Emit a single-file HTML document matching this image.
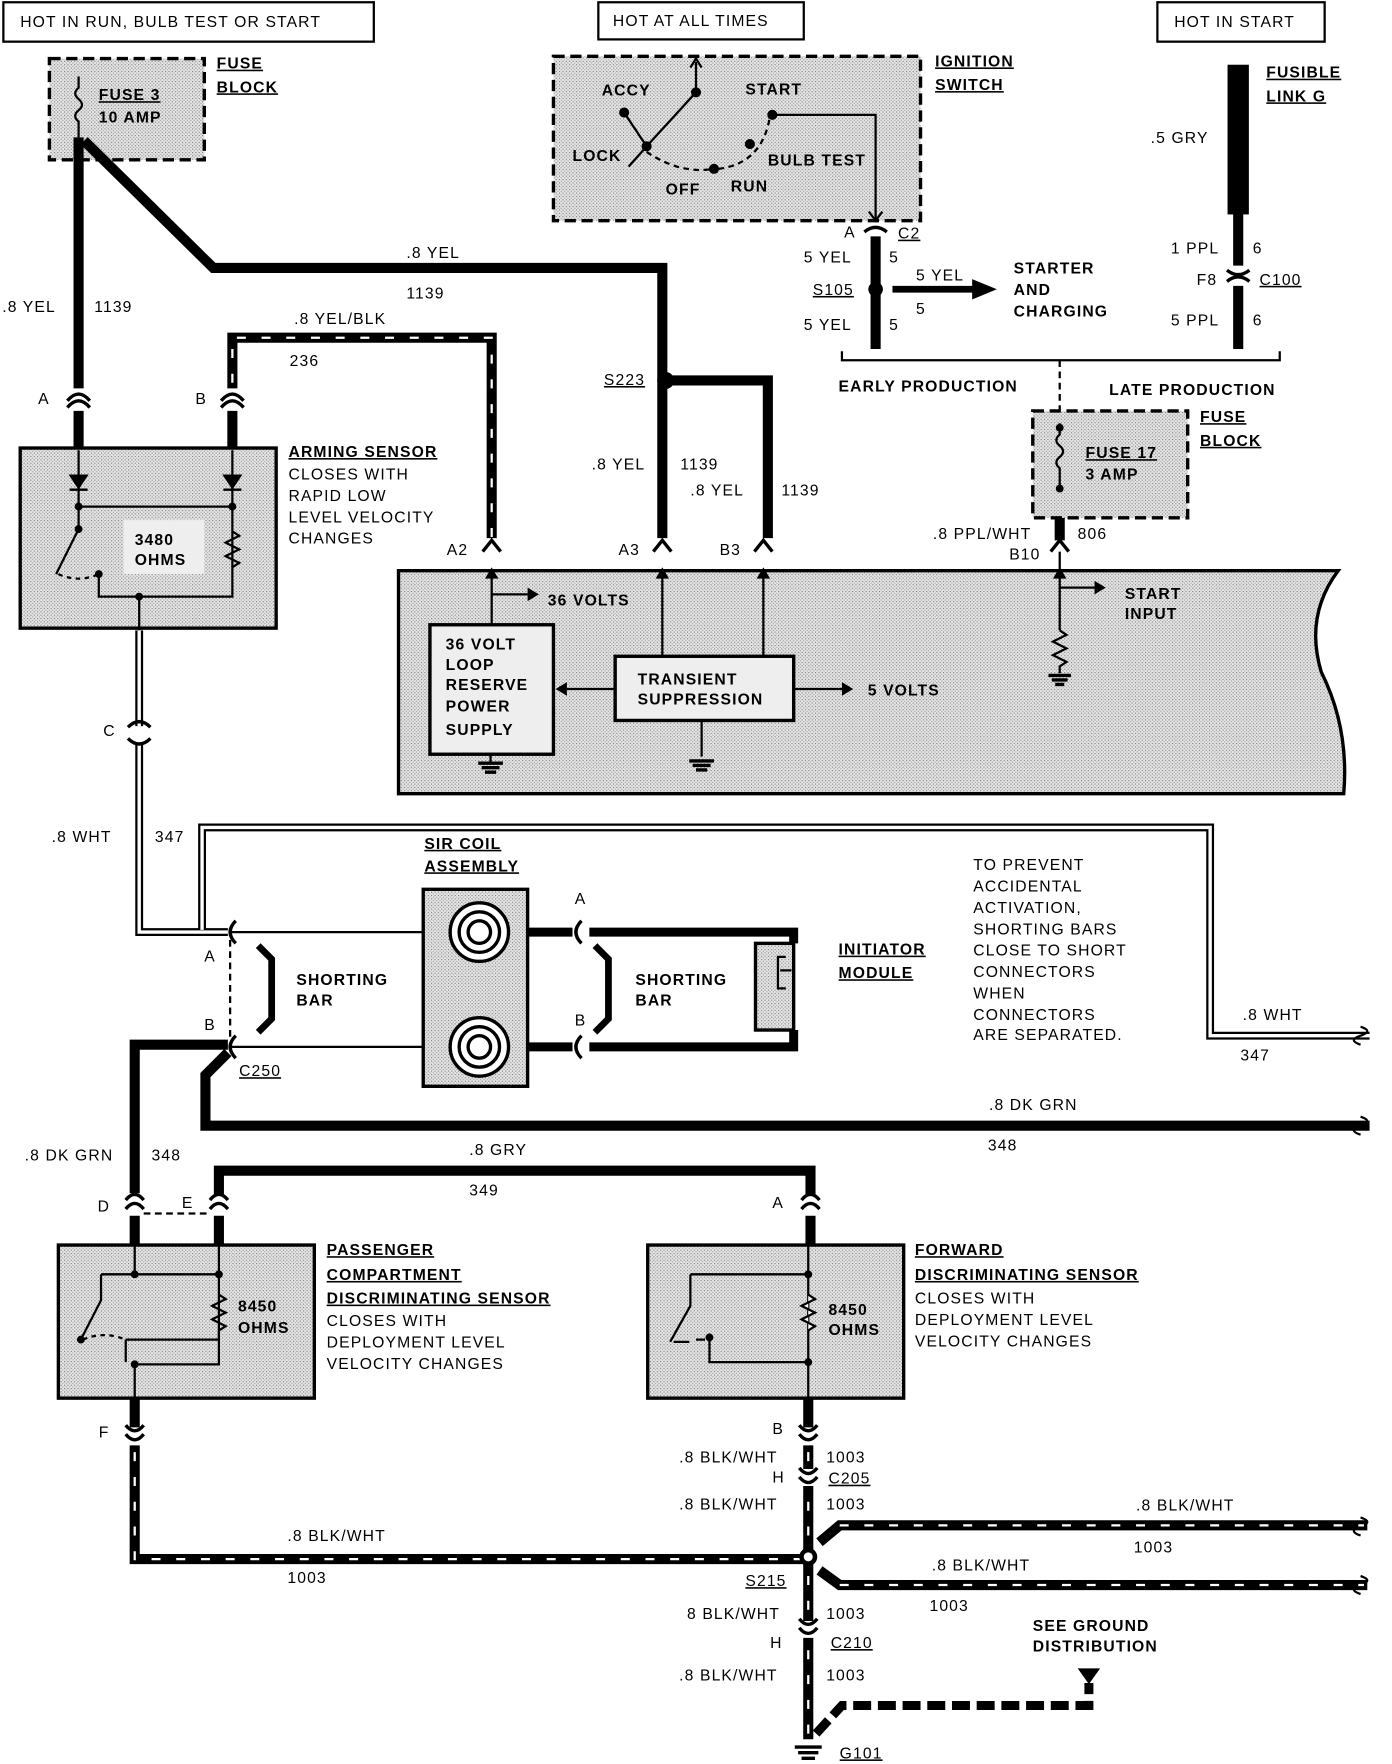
<!DOCTYPE html>
<html><head><meta charset="utf-8"><style>
html,body{margin:0;padding:0;background:#fff}
svg{display:block}
text{font-family:"Liberation Sans",sans-serif;font-size:14px;letter-spacing:1px;fill:#000}
.b{font-weight:bold}
.u{text-decoration:underline}
</style></head><body>
<svg width="1392" height="1764" viewBox="0 0 1240 1567" preserveAspectRatio="none" xmlns="http://www.w3.org/2000/svg">
<defs>
<pattern id="st" width="3" height="3" patternUnits="userSpaceOnUse"><rect width="3" height="3" fill="#e6e6e6"/><rect width="1" height="1" fill="#777"/><rect x="1.5" y="1.5" width="1" height="1" fill="#999"/></pattern>
</defs>
<g fill="none" stroke="#000">
<rect x="3" y="2" width="330" height="35" stroke-width="2"/>
<rect x="533" y="2" width="183" height="33" stroke-width="2"/>
<rect x="1031" y="2" width="149" height="35" stroke-width="2"/>

<rect x="44" y="52" width="138" height="90" fill="url(#st)" stroke-width="3" stroke-dasharray="10,5"/>
<path d="M70 68 v10 q-6 5 0 10 q6 5 0 10 q-6 5 0 10 v14" stroke-width="2"/>
<path d="M70 122 V345 M70 365 V400" stroke-width="9"/>
<path d="M75 125 L190 238 H590 V478" stroke-width="9"/>
<path d="M207 400 V365 M207 345 V300 H438 V478" stroke-width="9"/>
<path d="M207 340 V300 H438 V478" stroke="#fff" stroke-width="2" stroke-dasharray="8,14"/>
<path d="M60 356 q10 -12 20 0 M60 362 q10 -12 20 0 M197 356 q10 -12 20 0 M197 362 q10 -12 20 0" stroke-width="3"/>
<rect x="18" y="398" width="228" height="160" fill="url(#st)" stroke-width="3"/>
<path d="M70 400 V450 M207 400 V450 M70 450 H207 V530 H88 V510 M70 450 V470 L50 510 M124 530 V560" stroke-width="2"/>
<path d="M62 422 h16 l-8 12 z M199 422 h16 l-8 12 z" fill="#000" stroke-width="1"/>
<path d="M62 435 h16 M199 435 h16" stroke-width="2"/>
<path d="M207 472 l6 4 l-12 6 l12 6 l-12 6 l12 6 l-6 4" stroke-width="2" fill="none"/>
<path d="M52 510 q18 8 36 0" stroke-width="2" stroke-dasharray="4,4"/>
<circle cx="70" cy="450" r="3" fill="#000"/><circle cx="207" cy="450" r="3" fill="#000"/><circle cx="70" cy="470" r="3" fill="#000"/><circle cx="88" cy="510" r="3" fill="#000"/><circle cx="124" cy="530" r="3" fill="#000"/>
<rect x="110" y="462" width="72" height="48" fill="#eee" stroke="none"/>

<path d="M124 560 V645 M124 660 V828 H203 M180 828 V735 H1078 V920 H1220" stroke-width="7"/>
<path d="M124 560 V645 M124 660 V828 H203 M180 826 V735 H1078 V920 H1222" stroke="#fff" stroke-width="3"/>
<path d="M114 646 q10 -10 20 0 M114 656 q10 10 20 0" stroke-width="3"/>

<rect x="493" y="50" width="327" height="146" fill="url(#st)" stroke-width="3" stroke-dasharray="10,5"/>
<path d="M620 55 V82 L576 130 M556 100 L576 130 M576 130 L560 148 M688 102 H780 V196" stroke-width="2"/>
<path d="M576 135 q30 20 60 15 M640 150 q40 -5 46 -48" stroke-width="2" stroke-dasharray="5,4"/>
<circle cx="620" cy="82" r="4" fill="#000"/><circle cx="556" cy="100" r="4" fill="#000"/><circle cx="576" cy="130" r="4" fill="#000"/><circle cx="688" cy="102" r="4" fill="#000"/><circle cx="668" cy="128" r="4" fill="#000"/><circle cx="636" cy="150" r="4" fill="#000"/><path d="M615 60 l5 -8 l5 8 M774 188 l6 8 l6 -8" stroke-width="2"/>
<path d="M780 210 V310" stroke-width="9"/>
<path d="M770 206 q10 -8 20 0" stroke-width="3"/>
<circle cx="780" cy="257" r="6" fill="#000"/>
<path d="M795 257 H868" stroke-width="6"/><path d="M866 248 L888 257 L866 266 z" fill="#000" stroke="none"/>

<rect x="1094" y="58" width="18" height="132" fill="#000" stroke-width="1"/>
<path d="M1103 190 V236 M1103 254 V310" stroke-width="9"/>
<path d="M1093 240 q10 8 20 0 M1093 250 q10 -8 20 0" stroke-width="3"/>
<path d="M750 312 v8 H1140 v-8" stroke-width="2"/>
<path d="M944 320 V365" stroke-width="2" stroke-dasharray="6,4"/>
<rect x="920" y="365" width="138" height="95" fill="url(#st)" stroke-width="3" stroke-dasharray="10,5"/>
<path d="M944 376 v10 q-6 5 0 10 q6 5 0 10 q-6 5 0 10 v20" stroke-width="2"/>
<circle cx="944" cy="380" r="3" fill="#000"/><circle cx="944" cy="434" r="3" fill="#000"/>
<path d="M944 460 V480" stroke-width="9"/>

<circle cx="593" cy="338" r="7" fill="#000"/>
<path d="M593 338 H684 V478" stroke-width="9"/>

<path d="M355 507 H1192 q-30 40 -15 90 q25 50 20 108 H355 Z" fill="url(#st)" stroke-width="3"/>
<path d="M430 490 l8 -10 l8 10 M582 490 l8 -10 l8 10 M672 490 l8 -10 l8 10 M936 490 l8 -10 l8 10" stroke-width="3"/>
<path d="M438 507 V555 M438 528 H470 M590 507 V583 M680 507 V583 M548 612 H505 M707 612 H750 M625 640 V672 M944 490 V560 M944 522 H975 M437 670 V678" stroke-width="2"/>
<path d="M944 560 l6 4 l-12 6 l12 6 l-12 6 l12 6 l-6 4 V598" stroke-width="2"/>
<path d="M470 522 l10 6 l-10 6z M505 606 l-10 6 l10 6z M750 606 l10 6 l-10 6z M975 516 l10 6 l-10 6z M432 514 l6 -10 l6 10z M584 514 l6 -10 l6 10z M674 514 l6 -10 l6 10z M938 514 l6 -10 l6 10z" fill="#000" stroke="none"/>
<path d="M934 600 h20 M937 604 h14 M940 608 h8 M614 676 h22 M617 680 h16 M620 684 h10 M426 678 h22 M429 682 h16 M432 686 h10" stroke-width="3"/>
<rect x="383" y="555" width="110" height="115" fill="#eee" stroke-width="3"/>
<rect x="548" y="583" width="159" height="57" fill="#eee" stroke-width="3"/>

<rect x="377" y="790" width="93" height="175" fill="url(#st)" stroke-width="3"/>
<path d="M377 828 H205 M377 930 H205" stroke-width="2"/>
<circle cx="427" cy="828" r="26" fill="#fff" stroke-width="3"/><circle cx="427" cy="828" r="18" stroke-width="3"/><circle cx="427" cy="828" r="10" stroke-width="3"/>
<circle cx="427" cy="930" r="26" fill="#fff" stroke-width="3"/><circle cx="427" cy="930" r="18" stroke-width="3"/><circle cx="427" cy="930" r="10" stroke-width="3"/>
<path d="M470 828 H510 M470 930 H510 M525 828 H707 V838 M525 930 H707 V915" stroke-width="8"/>
<path d="M518 818 q-10 10 0 20 M518 920 q-10 10 0 20 M210 818 q-10 10 0 20 M210 920 q-10 10 0 20" stroke-width="3"/>
<rect x="673" y="838" width="34" height="77" fill="url(#st)" stroke-width="3"/>
<path d="M700 850 H693 V878 H700 M695 862 H705" stroke-width="2"/>
<path d="M230 840 l12 12 V905 l-12 12 M530 840 l12 12 V905 l-12 12" stroke-width="6"/>
<path d="M205 835 V922" stroke-width="2" stroke-dasharray="6,4"/>

<path d="M120 1060 V928 H203 M203 935 L183 955 V1000 H1220" stroke-width="9"/>
<path d="M195 1062 V1040 H722 V1062" stroke-width="9"/>
<path d="M112 1066 q8 -10 16 0 M112 1074 q8 -10 16 0 M187 1066 q8 -10 16 0 M187 1074 q8 -10 16 0 M714 1066 q8 -10 16 0 M714 1074 q8 -10 16 0" stroke-width="3"/>
<path d="M128 1078 H187" stroke-width="2" stroke-dasharray="6,4"/>
<path d="M120 1080 V1106 M195 1080 V1106 M722 1080 V1106" stroke-width="9"/>
<path d="M1212 912 q12 4 0 8 q-12 4 0 8 M1212 992 q12 4 0 8 q-12 4 0 8 M1212 1348 q12 4 0 8 q-12 4 0 8 M1212 1400 q12 4 0 8 q-12 4 0 8" stroke-width="2"/>

<rect x="52" y="1106" width="228" height="136" fill="url(#st)" stroke-width="3"/>
<path d="M120 1106 V1132 M195 1106 V1132 M90 1132 H195 V1190 M195 1190 V1190 H112 M90 1132 V1155 L72 1190 M120 1212 V1242" stroke-width="2"/>
<path d="M195 1150 l6 4 l-12 6 l12 6 l-12 6 l12 6 l-6 4" stroke-width="2"/>
<path d="M195 1182 V1212 H120 M112 1190 v20" stroke-width="2"/>
<path d="M74 1190 q18 -8 38 0" stroke-width="2" stroke-dasharray="4,4"/>
<circle cx="120" cy="1132" r="3" fill="#000"/><circle cx="195" cy="1132" r="3" fill="#000"/><circle cx="72" cy="1190" r="3" fill="#000"/><circle cx="120" cy="1212" r="3" fill="#000"/>
<rect x="577" y="1106" width="228" height="136" fill="url(#st)" stroke-width="3"/>
<path d="M720 1106 V1210 M615 1132 H720 M615 1132 V1160 L597 1192 M632 1190 V1210 H720 M720 1210 V1242" stroke-width="2"/>
<path d="M720 1150 l6 4 l-12 6 l12 6 l-12 6 l12 6 l-6 4" fill="#fff" stroke-width="2"/>
<path d="M600 1192 h14 M620 1190 h8" stroke-width="2"/>
<circle cx="720" cy="1132" r="3" fill="#000"/><circle cx="720" cy="1210" r="3" fill="#000"/><circle cx="632" cy="1188" r="3" fill="#000"/>

<path d="M120 1242 V1268 M120 1284 V1385 H720 M720 1242 V1268 M720 1284 V1305 M720 1320 V1440 M720 1455 V1545 M730 1370 L748 1355 H1218 M730 1395 L748 1408 H1218" stroke-width="9"/>
<path d="M120 1290 V1385 H715 M720 1290 V1545 M748 1355 H1215 M748 1408 H1215" stroke="#fff" stroke-width="2" stroke-dasharray="8,14"/>
<path d="M112 1266 q8 10 16 0 M112 1274 q8 10 16 0 M712 1266 q8 10 16 0 M712 1274 q8 10 16 0 M712 1304 q8 10 16 0 M712 1312 q8 10 16 0 M712 1438 q8 10 16 0 M712 1446 q8 10 16 0" stroke-width="3"/>
<circle cx="720" cy="1383" r="8" fill="#000" stroke="none"/><circle cx="720" cy="1383" r="4" fill="#fff" stroke="none"/>
<path d="M727 1540 L750 1515 H970 V1495" stroke-width="8" stroke-dasharray="16,6"/>
<path d="M960 1482 h20 l-10 14 z" fill="#000" stroke="none"/>
<path d="M708 1552 h24 M711 1557 h18 M714 1562 h12" stroke-width="3"/>
</g>

<g>
<text x="18" y="24">HOT IN RUN, BULB TEST OR START</text>
<text x="546" y="23">HOT AT ALL TIMES</text>
<text x="1046" y="24">HOT IN START</text>
<text x="193" y="61" class="b u">FUSE</text><text x="193" y="82" class="b u">BLOCK</text>
<text x="88" y="89" class="b u">FUSE 3</text><text x="88" y="109" class="b">10 AMP</text>
<text x="2" y="277">.8 YEL</text><text x="84" y="277">1139</text>
<text x="362" y="229">.8 YEL</text><text x="362" y="265">1139</text>
<text x="262" y="288">.8 YEL/BLK</text><text x="258" y="325">236</text>
<text x="34" y="359">A</text><text x="174" y="359">B</text>
<text x="257" y="406" class="b u">ARMING SENSOR</text>
<text x="257" y="426">CLOSES WITH</text><text x="257" y="445">RAPID LOW</text><text x="257" y="464">LEVEL VELOCITY</text><text x="257" y="483">CHANGES</text>
<text x="120" y="484" class="b">3480</text><text x="120" y="502" class="b">OHMS</text>
<text x="92" y="654">C</text>
<text x="46" y="748">.8 WHT</text><text x="138" y="748">347</text>
<text x="538" y="342" class="u">S223</text>
<text x="527" y="417">.8 YEL</text><text x="606" y="417">1139</text>
<text x="615" y="440">.8 YEL</text><text x="696" y="440">1139</text>
<text x="398" y="493">A2</text><text x="551" y="493">A3</text><text x="641" y="493">B3</text>
<text x="488" y="538" class="b">36 VOLTS</text>
<text x="397" y="577" class="b">36 VOLT</text><text x="397" y="595" class="b">LOOP</text><text x="397" y="613" class="b">RESERVE</text><text x="397" y="632" class="b">POWER</text><text x="397" y="653" class="b">SUPPLY</text>
<text x="568" y="608" class="b">TRANSIENT</text><text x="568" y="626" class="b">SUPPRESSION</text>
<text x="773" y="618" class="b">5 VOLTS</text>
<text x="1002" y="532" class="b">START</text><text x="1002" y="550" class="b">INPUT</text>
<text x="536" y="85" class="b">ACCY</text><text x="664" y="84" class="b">START</text>
<text x="510" y="143" class="b">LOCK</text><text x="684" y="147" class="b">BULB TEST</text>
<text x="593" y="173" class="b">OFF</text><text x="651" y="170" class="b">RUN</text>
<text x="833" y="59" class="b u">IGNITION</text><text x="833" y="80" class="b u">SWITCH</text>
<text x="752" y="211">A</text><text x="800" y="212" class="u">C2</text>
<text x="716" y="233">5 YEL</text><text x="792" y="233">5</text>
<text x="724" y="262" class="u">S105</text>
<text x="716" y="293">5 YEL</text><text x="792" y="293">5</text>
<text x="816" y="249">5 YEL</text><text x="816" y="279">5</text>
<text x="903" y="243" class="b">STARTER</text><text x="903" y="262" class="b">AND</text><text x="903" y="281" class="b">CHARGING</text>
<text x="1128" y="69" class="b u">FUSIBLE</text><text x="1128" y="90" class="b u">LINK G</text>
<text x="1025" y="127">.5 GRY</text>
<text x="1043" y="225">1 PPL</text><text x="1116" y="225">6</text>
<text x="1066" y="253">F8</text><text x="1122" y="253" class="u">C100</text>
<text x="1043" y="289">5 PPL</text><text x="1116" y="289">6</text>
<text x="747" y="348" class="b">EARLY PRODUCTION</text>
<text x="988" y="351" class="b">LATE PRODUCTION</text>
<text x="1069" y="375" class="b u">FUSE</text><text x="1069" y="396" class="b u">BLOCK</text>
<text x="967" y="407" class="b u">FUSE 17</text><text x="967" y="426" class="b">3 AMP</text>
<text x="831" y="479">.8 PPL/WHT</text><text x="960" y="479">806</text>
<text x="899" y="497">B10</text>
<text x="378" y="754" class="b u">SIR COIL</text><text x="378" y="774" class="b u">ASSEMBLY</text>
<text x="512" y="803">A</text><text x="182" y="854">A</text><text x="182" y="915">B</text><text x="512" y="911">B</text>
<text x="264" y="875" class="b">SHORTING</text><text x="264" y="893" class="b">BAR</text>
<text x="566" y="875" class="b">SHORTING</text><text x="566" y="893" class="b">BAR</text>
<text x="747" y="848" class="b u">INITIATOR</text><text x="747" y="869" class="b u">MODULE</text>
<text x="867" y="773">TO PREVENT</text><text x="867" y="792">ACCIDENTAL</text><text x="867" y="811">ACTIVATION,</text><text x="867" y="830">SHORTING BARS</text><text x="867" y="849">CLOSE TO SHORT</text><text x="867" y="868">CONNECTORS</text><text x="867" y="887">WHEN</text><text x="867" y="906">CONNECTORS</text><text x="867" y="924">ARE SEPARATED.</text>
<text x="1107" y="906">.8 WHT</text><text x="1105" y="942">347</text>
<text x="213" y="956" class="u">C250</text>
<text x="881" y="986">.8 DK GRN</text><text x="880" y="1022">348</text>
<text x="22" y="1031">.8 DK GRN</text><text x="135" y="1031">348</text>
<text x="418" y="1026">.8 GRY</text><text x="418" y="1062">349</text>
<text x="87" y="1076">D</text><text x="162" y="1073">E</text><text x="688" y="1073">A</text>
<text x="291" y="1115" class="b u">PASSENGER</text><text x="291" y="1137" class="b u">COMPARTMENT</text><text x="291" y="1158" class="b u">DISCRIMINATING SENSOR</text>
<text x="291" y="1178">CLOSES WITH</text><text x="291" y="1197">DEPLOYMENT LEVEL</text><text x="291" y="1216">VELOCITY CHANGES</text>
<text x="212" y="1165" class="b">8450</text><text x="212" y="1184" class="b">OHMS</text>
<text x="815" y="1115" class="b u">FORWARD</text><text x="815" y="1137" class="b u">DISCRIMINATING SENSOR</text>
<text x="815" y="1158">CLOSES WITH</text><text x="815" y="1177">DEPLOYMENT LEVEL</text><text x="815" y="1196">VELOCITY CHANGES</text>
<text x="738" y="1168" class="b">8450</text><text x="738" y="1186" class="b">OHMS</text>
<text x="88" y="1277">F</text><text x="688" y="1274">B</text>
<text x="605" y="1299">.8 BLK/WHT</text><text x="736" y="1299">1003</text>
<text x="688" y="1317">H</text><text x="738" y="1318" class="u">C205</text>
<text x="605" y="1341">.8 BLK/WHT</text><text x="736" y="1341">1003</text>
<text x="1012" y="1342">.8 BLK/WHT</text><text x="1010" y="1379">1003</text>
<text x="256" y="1369">.8 BLK/WHT</text><text x="256" y="1406">1003</text>
<text x="830" y="1395">.8 BLK/WHT</text><text x="828" y="1431">1003</text>
<text x="664" y="1409" class="u">S215</text>
<text x="612" y="1438">8 BLK/WHT</text><text x="736" y="1438">1003</text>
<text x="686" y="1464">H</text><text x="740" y="1464" class="u">C210</text>
<text x="605" y="1493">.8 BLK/WHT</text><text x="736" y="1493">1003</text>
<text x="920" y="1449" class="b">SEE GROUND</text><text x="920" y="1467" class="b">DISTRIBUTION</text>
<text x="748" y="1562" class="u">G101</text>
</g>
</svg>
</body></html>
